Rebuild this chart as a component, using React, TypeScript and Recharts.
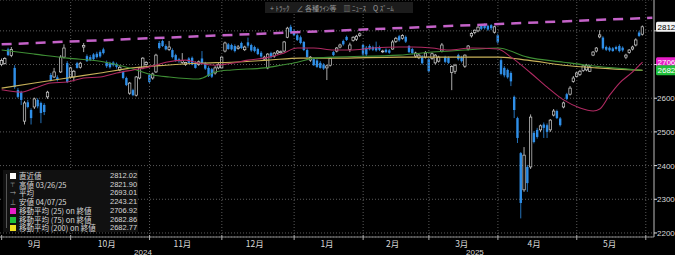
import React from "react";
import {
  ComposedChart,
  Bar,
  Line,
  XAxis,
  YAxis,
  CartesianGrid,
  ReferenceLine,
} from "recharts";

// daily candles, [open, high, low, close]
const ohlc: [number, number, number, number][] = [
  [2700, 2718, 2695, 2712], [2703, 2722, 2700, 2718], [2745, 2750, 2725, 2728], [2727, 2752, 2722, 2745],
  [2690, 2698, 2628, 2633], [2624, 2630, 2600, 2604], [2618, 2622, 2580, 2595], [2532, 2592, 2522, 2586],
  [2588, 2595, 2570, 2574], [2565, 2570, 2522, 2541], [2574, 2602, 2568, 2598], [2595, 2600, 2570, 2576],
  [2586, 2590, 2526, 2556], [2580, 2585, 2550, 2559], [2604, 2622, 2598, 2618], [2669, 2675, 2650, 2654],
  [2663, 2690, 2660, 2678], [2662, 2668, 2650, 2654], [2678, 2728, 2675, 2722], [2722, 2760, 2718, 2749],
  [2704, 2710, 2645, 2648], [2663, 2693, 2658, 2690], [2663, 2684, 2650, 2680], [2704, 2708, 2688, 2690],
  [2692, 2708, 2688, 2704], [2752, 2764, 2737, 2757], [2725, 2730, 2708, 2710], [2722, 2728, 2710, 2714],
  [2730, 2734, 2712, 2716], [2732, 2738, 2718, 2722], [2737, 2742, 2720, 2724], [2745, 2750, 2730, 2734],
  [2707, 2712, 2690, 2695], [2704, 2708, 2688, 2692], [2706, 2710, 2694, 2698], [2702, 2706, 2688, 2693],
  [2684, 2696, 2680, 2692], [2678, 2682, 2656, 2660], [2660, 2664, 2636, 2639], [2615, 2648, 2610, 2645],
  [2624, 2628, 2606, 2609], [2609, 2666, 2605, 2663], [2660, 2693, 2656, 2690], [2690, 2722, 2686, 2719],
  [2700, 2710, 2696, 2706], [2669, 2674, 2645, 2648], [2660, 2676, 2655, 2672], [2678, 2732, 2675, 2728],
  [2764, 2770, 2745, 2749], [2770, 2774, 2752, 2755], [2755, 2760, 2742, 2745], [2745, 2770, 2740, 2752],
  [2743, 2748, 2718, 2722], [2728, 2732, 2708, 2712], [2716, 2720, 2705, 2710], [2706, 2734, 2702, 2712],
  [2700, 2708, 2696, 2706], [2718, 2722, 2702, 2705], [2720, 2724, 2698, 2700], [2705, 2710, 2688, 2690],
  [2700, 2712, 2696, 2708], [2718, 2740, 2700, 2704], [2704, 2708, 2684, 2688], [2690, 2695, 2663, 2666],
  [2686, 2690, 2660, 2664], [2675, 2696, 2670, 2690], [2690, 2706, 2686, 2700], [2690, 2726, 2688, 2722],
  [2740, 2768, 2736, 2764], [2760, 2764, 2744, 2746], [2758, 2762, 2742, 2745], [2755, 2760, 2736, 2740],
  [2748, 2758, 2744, 2752], [2764, 2768, 2746, 2749], [2744, 2756, 2740, 2752], [2766, 2780, 2750, 2756],
  [2758, 2762, 2738, 2742], [2752, 2756, 2736, 2740], [2746, 2750, 2728, 2731], [2735, 2740, 2720, 2724],
  [2716, 2726, 2712, 2722], [2690, 2734, 2686, 2731], [2734, 2738, 2718, 2722], [2725, 2737, 2720, 2734],
  [2734, 2743, 2730, 2740], [2735, 2742, 2732, 2738], [2740, 2770, 2736, 2767], [2781, 2812, 2778, 2808],
  [2812, 2818, 2792, 2796], [2800, 2805, 2784, 2787], [2787, 2792, 2770, 2773], [2781, 2786, 2760, 2764],
  [2767, 2770, 2740, 2743], [2743, 2748, 2720, 2722], [2713, 2725, 2708, 2722], [2716, 2720, 2696, 2698],
  [2712, 2716, 2690, 2693], [2705, 2710, 2688, 2690], [2700, 2704, 2684, 2688], [2690, 2700, 2654, 2696],
  [2698, 2722, 2694, 2718], [2737, 2740, 2725, 2728], [2740, 2752, 2736, 2749], [2752, 2762, 2748, 2758],
  [2770, 2774, 2756, 2760], [2782, 2786, 2770, 2773], [2745, 2765, 2737, 2758], [2772, 2784, 2768, 2781],
  [2775, 2788, 2770, 2784], [2786, 2795, 2782, 2791], [2758, 2762, 2726, 2730], [2750, 2755, 2725, 2730],
  [2755, 2760, 2742, 2745], [2752, 2756, 2740, 2744], [2752, 2768, 2738, 2742], [2752, 2756, 2740, 2744],
  [2738, 2744, 2734, 2740], [2744, 2748, 2734, 2737], [2742, 2746, 2732, 2735], [2746, 2773, 2744, 2767],
  [2768, 2782, 2764, 2778], [2784, 2788, 2768, 2772], [2778, 2790, 2774, 2786], [2782, 2786, 2764, 2768],
  [2755, 2758, 2734, 2737], [2746, 2750, 2730, 2734], [2725, 2738, 2720, 2734], [2720, 2732, 2716, 2728],
  [2724, 2728, 2700, 2704], [2722, 2740, 2718, 2734], [2716, 2720, 2676, 2680], [2718, 2736, 2714, 2732],
  [2705, 2731, 2700, 2728], [2710, 2726, 2706, 2722], [2740, 2764, 2736, 2758], [2722, 2726, 2704, 2708],
  [2720, 2724, 2702, 2705], [2676, 2698, 2624, 2694], [2680, 2702, 2672, 2698], [2728, 2732, 2712, 2716],
  [2722, 2726, 2706, 2710], [2695, 2730, 2690, 2728], [2746, 2758, 2742, 2755], [2785, 2796, 2780, 2792],
  [2795, 2804, 2790, 2802], [2800, 2814, 2796, 2811], [2816, 2820, 2802, 2806], [2818, 2821.9, 2804, 2808],
  [2815, 2818, 2800, 2804], [2817, 2820, 2802, 2808], [2796, 2815, 2792, 2812], [2787, 2792, 2762, 2766],
  [2713, 2718, 2668, 2672], [2690, 2695, 2662, 2668], [2684, 2688, 2658, 2662], [2675, 2680, 2636, 2650],
  [2604, 2608, 2541, 2565], [2541, 2545, 2467, 2482], [2437, 2440, 2243.21, 2289], [2328, 2455, 2322, 2431],
  [2396, 2402, 2322, 2348], [2396, 2552, 2390, 2544], [2497, 2502, 2466, 2470], [2506, 2512, 2480, 2485],
  [2506, 2522, 2500, 2518], [2522, 2528, 2482, 2512], [2520, 2525, 2482, 2500], [2506, 2538, 2500, 2535],
  [2550, 2568, 2546, 2562], [2562, 2566, 2538, 2541], [2540, 2544, 2516, 2520], [2574, 2590, 2570, 2586],
  [2612, 2616, 2594, 2598], [2612, 2636, 2608, 2630], [2650, 2666, 2646, 2660], [2665, 2678, 2662, 2675],
  [2670, 2684, 2666, 2680], [2682, 2700, 2678, 2696], [2684, 2702, 2680, 2698], [2680, 2700, 2678, 2693],
  [2728, 2740, 2725, 2737], [2740, 2752, 2736, 2749], [2782, 2802, 2778, 2788], [2780, 2784, 2744, 2748],
  [2752, 2756, 2740, 2744], [2750, 2754, 2738, 2742], [2748, 2752, 2738, 2740], [2752, 2756, 2742, 2746],
  [2755, 2760, 2736, 2740], [2750, 2754, 2738, 2742], [2722, 2732, 2716, 2728], [2736, 2746, 2732, 2743],
  [2746, 2756, 2742, 2752], [2758, 2778, 2754, 2773], [2795, 2800, 2782, 2785], [2790, 2816, 2786, 2812.02],
];

// moving averages, [day index, value]
const ma25: [number, number][] = [
  [0, 2625], [6, 2618], [10, 2630], [15, 2645], [20, 2648], [25, 2660], [30, 2663], [35, 2675],
  [40, 2684], [45, 2693], [50, 2707], [56, 2713], [60, 2704], [65, 2698], [70, 2704], [75, 2713],
  [80, 2719], [85, 2731], [90, 2749], [95, 2749], [101, 2743], [106, 2743], [113, 2749], [121, 2752],
  [125, 2752], [131, 2749], [136, 2743], [143, 2749], [151, 2746], [155, 2722], [161, 2675], [166, 2633],
  [171, 2595], [176, 2571], [180, 2562], [182, 2568], [185, 2609], [188, 2645], [192, 2678], [195, 2706.92],
];
const ma75: [number, number][] = [
  [0, 2743], [10, 2731], [20, 2719], [30, 2710], [40, 2687], [46, 2669], [51, 2663], [60, 2657],
  [65, 2678], [70, 2684], [80, 2690], [85, 2698], [90, 2707], [95, 2719], [101, 2722], [121, 2728],
  [131, 2737], [141, 2743], [151, 2749], [160, 2722], [171, 2707], [178, 2698], [186, 2690], [195, 2682.86],
];
const ma200: [number, number][] = [
  [0, 2630], [10, 2645], [20, 2660], [30, 2675], [40, 2690], [50, 2698], [60, 2704], [70, 2707],
  [81, 2713], [91, 2719], [101, 2719], [121, 2722], [141, 2722], [151, 2722], [160, 2713], [171, 2698],
  [181, 2690], [195, 2682.77],
];
const trend: [number, number][] = [[0, 2760], [198, 2839]];

const PAD = 3;
const monthStarts = [0, 21, 45, 67, 89, 110, 130, 151, 175, 196];
const monthLabelIdx = [10, 32, 55, 77, 99, 119, 140, 162, 185];
const monthLabels = ["9月", "10月", "11月", "12月", "1月", "2月", "3月", "4月", "5月"];
const yearLabelIdx = [43, 144];
const yearLabels = ["2024", "2025"];
const yTicks = [2200, 2300, 2400, 2500, 2600, 2700, 2800];
const yLabelMax = 2600; // 2700 / 2800 sit under the value tags

const legendLabels = [
  "直近値",
  "高値 03/26/25",
  "平均",
  "安値 04/07/25",
  "移動平均 (25) on 終値",
  "移動平均 (75) on 終値",
  "移動平均 (200) on 終値",
];
const legendValues = ["2812.02", "2821.90", "2693.01", "2243.21", "2706.92", "2682.86", "2682.77"];

const FONT = '"Liberation Sans", Arial, sans-serif';
const JP = '"Noto Sans CJK JP", "Liberation Sans", sans-serif';
const UP = "#d6d6d6";
const DOWN = "#2f8fe8";

const m25 = new Map(ma25);
const m75 = new Map(ma75);
const m200 = new Map(ma200);
const tr = new Map(trend);

const data = Array.from({ length: ohlc.length + PAD }, (_, i) => {
  const k = ohlc[i];
  return {
    i,
    range: k ? [k[2], k[1]] : undefined,
    o: k?.[0],
    h: k?.[1],
    l: k?.[2],
    c: k?.[3],
    ma25: m25.get(i) ?? null,
    ma75: m75.get(i) ?? null,
    ma200: m200.get(i) ?? null,
    trend: tr.get(i) ?? null,
  };
});

const xTicks = Array.from(new Set([...monthStarts, ...monthLabelIdx, ...yearLabelIdx])).sort((a, b) => a - b);

function Candle(props: any) {
  const { x, y, width, height, payload } = props;
  if (!payload || payload.c == null) return null;
  const { o, h, l, c } = payload;
  const top = Math.min(y, y + height);
  const span = Math.abs(height);
  const py = (v: number) => (h === l ? top : top + ((h - v) / (h - l)) * span);
  const cx = x + width / 2;
  const up = c >= o;
  const color = up ? UP : DOWN;
  const bt = py(Math.max(o, c));
  const bb = py(Math.min(o, c));
  return (
    <g>
      <line x1={cx} x2={cx} y1={top} y2={top + span} stroke={color} strokeWidth={0.8} />
      <rect
        x={cx - 1.2}
        y={bt}
        width={2.4}
        height={Math.max(bb - bt, 0.8)}
        fill={up ? "#000" : color}
        stroke={up ? color : "none"}
        strokeWidth={0.7}
      />
    </g>
  );
}

function XTick(props: any) {
  const { x, y, payload } = props;
  const v = payload.value;
  const m = monthLabelIdx.indexOf(v);
  const yr = yearLabelIdx.indexOf(v);
  return (
    <g>
      {monthStarts.includes(v) && <line x1={x} x2={x} y1={y - 2} y2={y + 3} stroke="#aaa" />}
      {m >= 0 && (
        <text x={x} y={y + 10} textAnchor="middle" fill="#d8d8d8" fontSize={8.5} fontFamily={JP}>
          {monthLabels[m]}
        </text>
      )}
      {yr >= 0 && (
        <text x={x} y={y + 17.5} textAnchor="middle" fill="#d8d8d8" fontSize={8} fontFamily={FONT}>
          {yearLabels[yr]}
        </text>
      )}
    </g>
  );
}

function YTick(props: any) {
  const { x, y, payload } = props;
  if (payload.value > yLabelMax) return null;
  return (
    <text x={x} y={y + 3} fill="#d8d8d8" fontSize={8} fontFamily={FONT}>
      {payload.value}
    </text>
  );
}

function Tag(props: any) {
  const { viewBox, text, bg, fg } = props;
  if (!viewBox) return null;
  const x = viewBox.x + viewBox.width + 2;
  const y = viewBox.y;
  return (
    <g>
      <rect x={x} y={y - 5} width={22} height={10} rx={1.5} fill={bg} />
      <text x={x + 1.5} y={y + 3} fill={fg} fontSize={8} fontFamily={FONT}>
        {text}
      </text>
    </g>
  );
}

function LegendIcon({ k }: { k: number }) {
  const sq = (color: string) => (
    <span style={{ display: "block", width: 6, height: 6, background: color, marginTop: 1 }} />
  );
  if (k === 0) return sq("#ffffff");
  if (k === 4) return sq("#e81ec8");
  if (k === 5) return sq("#1fbf3a");
  if (k === 6) return sq("#f0e020");
  const glyph = k === 1 ? "⊤" : k === 2 ? "→" : "⊥";
  return <span style={{ display: "block", color: "#aaa", fontSize: 6, lineHeight: "8px" }}>{glyph}</span>;
}

export default function App() {
  const last = ohlc[ohlc.length - 1];
  const lastMa25 = ma25[ma25.length - 1][1];
  const lastMa75 = ma75[ma75.length - 1][1];
  return (
    <div style={{ position: "absolute", left: 0, top: 0, width: 675, height: 255, background: "#000", overflow: "hidden" }}>
      <ComposedChart width={675} height={255} data={data} margin={{ top: 0, right: 0, bottom: 0, left: 0 }}>
        <CartesianGrid vertical={false} stroke="#5a5a5a" strokeDasharray="1 2" />
        {monthStarts.slice(1).map((m) => (
          <ReferenceLine key={m} x={m} stroke="#5a5a5a" strokeDasharray="1 2" />
        ))}
        <XAxis
          dataKey="i"
          type="category"
          ticks={xTicks}
          interval={0}
          tick={<XTick />}
          tickLine={false}
          tickSize={0}
          tickMargin={0}
          axisLine={{ stroke: "#888" }}
          height={18}
        />
        <YAxis
          orientation="right"
          type="number"
          domain={[2188, 2891.6]}
          allowDataOverflow
          ticks={yTicks}
          interval={0}
          width={21}
          axisLine={{ stroke: "#bbb" }}
          tickLine={{ stroke: "#ddd" }}
          tickSize={3}
          tickMargin={0}
          tick={<YTick />}
        />
        <Bar dataKey="range" barSize={3} shape={(p: any) => <Candle {...p} />} isAnimationActive={false} />
        <Line dataKey="ma200" type="monotone" stroke="#c9b25a" strokeWidth={1.1} dot={false} activeDot={false} connectNulls isAnimationActive={false} />
        <Line dataKey="ma75" type="monotone" stroke="#3f8f35" strokeWidth={1.1} dot={false} activeDot={false} connectNulls isAnimationActive={false} />
        <Line dataKey="ma25" type="monotone" stroke="#b02a62" strokeWidth={1.1} dot={false} activeDot={false} connectNulls isAnimationActive={false} />
        <Line dataKey="trend" type="linear" stroke="#c462c8" strokeWidth={2.5} strokeDasharray="10 7" dot={false} activeDot={false} connectNulls isAnimationActive={false} />
        <ReferenceLine y={last[3]} stroke="none" label={<Tag text={Math.floor(last[3])} bg="#f2f2f2" fg="#000" />} />
        <ReferenceLine y={lastMa25} stroke="none" label={<Tag text={Math.floor(lastMa25)} bg="#e81ec8" fg="#fff" />} />
        <ReferenceLine y={lastMa75} stroke="none" label={<Tag text={Math.floor(lastMa75)} bg="#1fbf3a" fg="#fff" />} />
      </ComposedChart>

      {/* toolbar */}
      <div
        style={{
          position: "absolute", left: 265, top: 2, width: 148, height: 11, background: "#1c1c1c",
          display: "flex", alignItems: "center", gap: 7, paddingLeft: 5, boxSizing: "border-box",
          fontFamily: JP, fontSize: 7, color: "#9a9a9a", whiteSpace: "nowrap",
        }}
      >
        <span>+ ﾄﾗｯｸ</span>
        <span>∠ 各種ﾗｲﾝ等</span>
        <span>▥ ﾆｭｰｽ</span>
        <span>Q ｽﾞｰﾑ</span>
      </div>

      {/* legend */}
      <div
        style={{
          position: "absolute", left: 3, top: 170, width: 135, height: 62, background: "#111",
          fontFamily: JP, fontSize: 7.5, color: "#d8d8d8",
        }}
      >
        <div style={{ position: "absolute", left: 3, top: 4, width: 1, height: 54, background: "#555" }} />
        {legendLabels.map((t, k) => (
          <div key={k} style={{ position: "absolute", left: 0, top: 2 + k * 8.7, height: 8, width: 135, lineHeight: "8px", whiteSpace: "nowrap" }}>
            <span style={{ position: "absolute", left: 7, top: 0 }}>
              <LegendIcon k={k} />
            </span>
            <span style={{ position: "absolute", left: 16, top: 0 }}>{t}</span>
            <span style={{ position: "absolute", left: 107, top: 0, fontFamily: FONT }}>{legendValues[k]}</span>
          </div>
        ))}
      </div>
    </div>
  );
}
